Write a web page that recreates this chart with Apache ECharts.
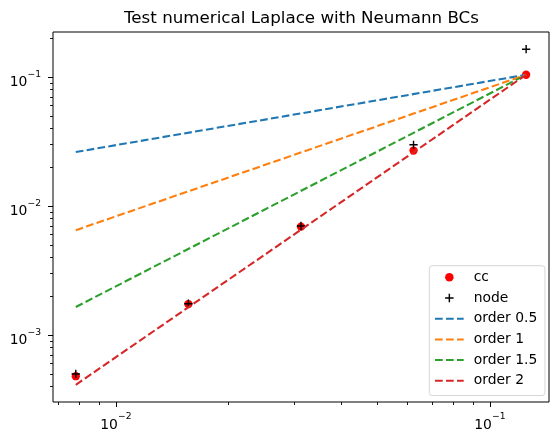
<!DOCTYPE html>
<html>
<head>
<meta charset="utf-8">
<script src="https://cdn.jsdelivr.net/npm/echarts@6/dist/echarts.min.js"></script>
<style>
  html, body { margin: 0; padding: 0; background: #fff; }
  #chart { width: 559px; height: 440px; }
</style>
</head>
<body>
<div id="chart"></div>
<script>
  // grid spacing h and measured errors
  const gridSize = [0.0078125, 0.015625, 0.03125, 0.0625, 0.125];
  const ccErr = [0.00048, 0.00174, 0.00692, 0.0269, 0.104];
  const nodeErr = [0.0005, 0.00175, 0.0070, 0.0298, 0.164];
  // reference slopes, read at both ends
  const orderX = [0.0078125, 0.125];
  const order05 = [0.0262, 0.104];
  const order1 = [0.0065, 0.104];
  const order15 = [0.00165, 0.104];
  const order2 = [0.000412, 0.104];
  // axis ranges, major and minor tick values
  const xRange = [0.00679, 0.1439];
  const yRange = [0.000303, 0.223];
  const xMajor = [0.01, 0.1];
  const yMajor = [0.001, 0.01, 0.1];
  const xMinor = [0.007, 0.008, 0.009, 0.02, 0.03, 0.04, 0.05, 0.06, 0.07, 0.08, 0.09];
  const yMinor = [0.0004, 0.0005, 0.0006, 0.0007, 0.0008, 0.0009,
    0.002, 0.003, 0.004, 0.005, 0.006, 0.007, 0.008, 0.009,
    0.02, 0.03, 0.04, 0.05, 0.06, 0.07, 0.08, 0.09, 0.2];

  const FONT = 'DejaVu Sans';
  const colors = ['#1f77b4', '#ff7f0e', '#2ca02c', '#d62728'];
  const dash = [7.7, 3.3];
  const plus = 'path://M4.15,0H5.85V4.15H10V5.85H5.85V10H4.15V5.85H0V4.15H4.15Z';

  const pairs = (xs, ys) => xs.map((x, i) => [x, ys[i]]);
  const lg = (arr) => arr.map(Math.log10);

  // overlay axes work in log10 space, so the value is the exponent
  const powLabel = function (v) {
    const e = Math.round(v);
    return '{b|10}{s|' + (e < 0 ? '\u2212' + (-e) : e) + '}';
  };
  const richLabel = {
    b: { fontFamily: FONT, fontSize: 13.9, color: '#000', lineHeight: 20, verticalAlign: 'bottom' },
    s: { fontFamily: FONT, fontSize: 9.2, color: '#000', verticalAlign: 'top' }
  };

  const myChart = echarts.init(document.getElementById('chart'));

  const lineSeries = (name, data, color) => ({
    name: name,
    type: 'line',
    data: pairs(orderX, data),
    showSymbol: false,
    symbol: 'none',
    lineStyle: { color: color, width: 2.08, type: dash },
    itemStyle: { color: color },
    silent: true
  });

  const hidden = {
    axisLine: { show: false },
    splitLine: { show: false },
    axisTick: { show: false },
    axisLabel: { show: false }
  };

  const tickAxis = (pos, range, ticks, len, label) => ({
    type: 'value',
    position: pos,
    min: Math.log10(range[0]),
    max: Math.log10(range[1]),
    axisLine: { show: false, onZero: false },
    splitLine: { show: false },
    axisTick: { show: true, length: len, customValues: lg(ticks), lineStyle: { color: '#000', width: len > 4 ? 1 : 0.9 } },
    axisLabel: label
      ? Object.assign({ show: true, customValues: lg(ticks), formatter: powLabel, rich: richLabel }, label)
      : { show: false }
  });

  const option = {
    animation: false,
    backgroundColor: '#fff',
    title: {
      text: 'Test numerical Laplace with Neumann BCs',
      left: 124,
      top: 10,
      padding: 0,
      textStyle: { fontFamily: FONT, fontSize: 16.7, fontWeight: 'normal', color: '#000' }
    },
    legend: {
      orient: 'vertical',
      left: 429.3,
      top: 265.7,
      padding: [4.6, 7.7, 7.7, 4.7],
      itemWidth: 28.7,
      itemHeight: 8.5,
      itemGap: 6.7,
      borderColor: '#d6d6d6',
      borderWidth: 1,
      borderRadius: 3,
      backgroundColor: 'rgba(255,255,255,0.8)',
      textStyle: { fontFamily: FONT, fontSize: 13.9, color: '#000', lineHeight: 14, padding: [0, 0, 0, 5] },
      data: [
        { name: 'cc', icon: 'circle' },
        { name: 'node', icon: plus },
        { name: 'order 0.5', itemStyle: { opacity: 0 } },
        { name: 'order 1', itemStyle: { opacity: 0 } },
        { name: 'order 1.5', itemStyle: { opacity: 0 } },
        { name: 'order 2', itemStyle: { opacity: 0 } }
      ]
    },
    grid: {
      left: 53, right: 10, top: 32, bottom: 38,
      show: true, borderColor: '#000', borderWidth: 1, backgroundColor: 'transparent'
    },
    xAxis: [
      Object.assign({ type: 'log', position: 'bottom', min: xRange[0], max: xRange[1] }, hidden),
      tickAxis('bottom', xRange, xMajor, 5, { margin: 10 }),
      tickAxis('bottom', xRange, xMinor, 3, null)
    ],
    yAxis: [
      Object.assign({ type: 'log', position: 'left', min: yRange[0], max: yRange[1] }, hidden),
      tickAxis('left', yRange, yMajor, 5, { margin: 12, padding: [5.4, 0, 0, 0] }),
      tickAxis('left', yRange, yMinor, 3, null)
    ],
    series: [{
      name: 'cc',
      type: 'scatter',
      data: pairs(gridSize, ccErr),
      symbol: 'circle',
      symbolSize: 8.3,
      itemStyle: { color: '#ff0000', opacity: 1 },
      silent: true
    }, {
      name: 'node',
      type: 'scatter',
      data: pairs(gridSize, nodeErr),
      symbol: plus,
      symbolSize: 8.3,
      itemStyle: { color: '#000', opacity: 1 },
      silent: true
    },
      lineSeries('order 0.5', order05, colors[0]),
      lineSeries('order 1', order1, colors[1]),
      lineSeries('order 1.5', order15, colors[2]),
      lineSeries('order 2', order2, colors[3])
    ]
  };

  myChart.setOption(option);
</script>
</body>
</html>
